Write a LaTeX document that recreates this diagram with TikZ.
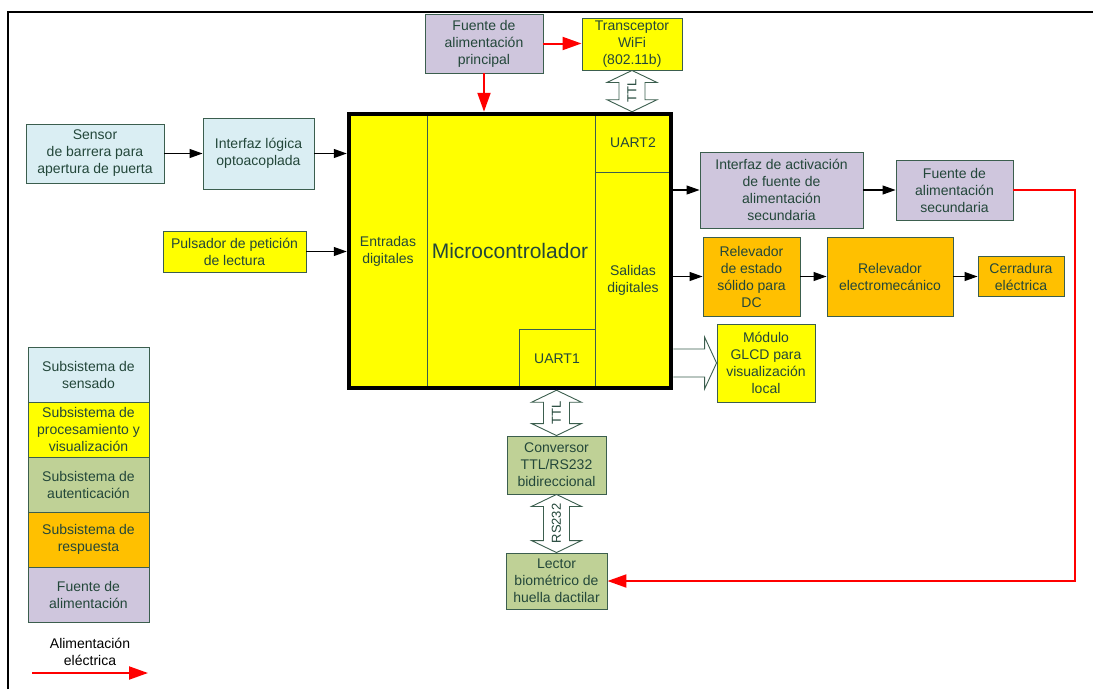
\documentclass[tikz,border=0pt]{standalone}
\usepackage{fontspec}
\setmainfont{Liberation Sans}
\usetikzlibrary{arrows.meta,calc}
\definecolor{txtc}{HTML}{23473A}
\definecolor{bordc}{HTML}{3B5E4E}
\definecolor{cblue}{HTML}{DAEEF3}
\definecolor{cyel}{HTML}{FFFF00}
\definecolor{cgreen}{HTML}{BFD196}
\definecolor{corange}{HTML}{FFC000}
\definecolor{clav}{HTML}{CFC6DD}
\newcommand{\myVArrow}[3]{% top anchor, bottom anchor, label
  \filldraw[bigarr] let \p1=(#1), \p2=(#2) in
    (\x1,\y1) -- ({\x1+25pt},{\y1-12pt}) -- ({\x1+13pt},{\y1-12pt})
    -- ({\x1+13pt},{\y2+12pt}) -- ({\x1+25pt},{\y2+12pt}) -- (\x1,\y2)
    -- ({\x1-25pt},{\y2+12pt}) -- ({\x1-13pt},{\y2+12pt})
    -- ({\x1-13pt},{\y1-12pt}) -- ({\x1-25pt},{\y1-12pt}) -- cycle
    node[lbl,rotate=90] at (\x1,{0.5*\y1+0.5*\y2}) {#3};}
\begin{document}
\begin{tikzpicture}[x=1pt,y=-1pt,
  box/.style={draw=bordc,line width=0.9pt,text=txtc,align=center,inner sep=0pt,font=\fontsize{14}{17}\selectfont},
  blkarr/.style={draw=black,line width=1.1pt,-{Triangle[length=13pt,width=9pt]}},
  redarr/.style={draw=red,line width=2pt,-{Triangle[length=19pt,width=13pt]}},
  bigarr/.style={draw=bordc,fill=white,line width=0.9pt},
  lbl/.style={text=txtc,font=\fontsize{13}{15}\selectfont,inner sep=0pt}
]
\useasboundingbox (0,0) rectangle (1093,689);
\fill[white] (0,0) rectangle (1093,689);
% frame
\draw[line width=2.2pt] (8,689) -- (8,12) -- (1093,12);

% top
\node[box,fill=clav,minimum width=118pt,minimum height=59pt] (fprin) at (484,43.5) {Fuente de\\alimentación\\principal};
\node[box,fill=cyel,minimum width=100pt,minimum height=52pt] (wifi) at (632,44) {Transceptor\\WiFi\\(802.11b)};

% microcontroller
\node[fill=cyel,minimum width=322pt,minimum height=274pt,inner sep=0pt,outer sep=2.25pt,text=txtc,font=\fontsize{21}{25}\selectfont] (micro) at (510,251) {Microcontrolador};
\node[box,minimum width=78pt,minimum height=274pt] (entradas) at (388,251) {Entradas\\digitales};
\node[box,minimum width=76pt,minimum height=58pt] (uart2) at (633,143) {UART2};
\node[box,minimum width=76pt,minimum height=216pt] (salidas) at (633,280) {Salidas\\digitales};
\node[box,minimum width=76pt,minimum height=59pt] (uart1) at (557,358.5) {UART1};
\node[draw=black,line width=4.5pt,minimum width=322pt,minimum height=274pt,inner sep=0pt] (microframe) at (micro.center) {};

% left side
\node[box,fill=cblue,minimum width=138pt,minimum height=59pt] (sensor) at (95,153.5) {Sensor\\de barrera para\\apertura de puerta};
\node[box,fill=cblue,minimum width=111pt,minimum height=71pt] (intlog) at (258.5,153.5) {Interfaz lógica\\optoacoplada};
\node[box,fill=cyel,minimum width=143pt,minimum height=41pt] (puls) at (234.5,251.5) {Pulsador de petición\\de lectura};

% right side
\node[box,fill=clav,minimum width=163pt,minimum height=76pt] (intact) at (781.5,190) {Interfaz de activación\\de fuente de\\alimentación\\secundaria};
\node[box,fill=clav,minimum width=117pt,minimum height=60pt] (fsec) at (954.5,190) {Fuente de\\alimentación\\secundaria};
\node[box,fill=corange,minimum width=97pt,minimum height=79pt] (relss) at (751.5,276.5) {Relevador\\de estado\\sólido para\\DC};
\node[box,fill=corange,minimum width=126pt,minimum height=79pt] (relem) at (890,276.5) {Relevador\\electromecánico};
\node[box,fill=corange,minimum width=86pt,minimum height=40pt] (cerr) at (1021,276.5) {Cerradura\\eléctrica};
\node[box,fill=cyel,minimum width=98pt,minimum height=78pt] (glcd) at (766,363) {Módulo\\GLCD para\\visualización\\local};

% bottom
\node[box,fill=cgreen,minimum width=99pt,minimum height=58pt] (conv) at (556.5,465) {Conversor\\TTL/RS232\\bidireccional};
\node[box,fill=cgreen,minimum width=101pt,minimum height=56pt] (lector) at (556.5,581) {Lector\\biométrico de\\huella dactilar};

% legend
\node[box,fill=cblue,minimum width=121pt,minimum height=55pt] (lg1) at (88.5,374.5) {Subsistema de\\sensado};
\node[box,fill=cyel,minimum width=121pt,minimum height=55pt] (lg2) at (88.5,429.5) {Subsistema de\\procesamiento y\\visualización};
\node[box,fill=cgreen,minimum width=121pt,minimum height=55pt] (lg3) at (88.5,484.5) {Subsistema de\\autenticación};
\node[box,fill=corange,minimum width=121pt,minimum height=55pt] (lg4) at (88.5,539.5) {Subsistema de\\respuesta};
\node[box,fill=clav,minimum width=121pt,minimum height=55pt] (lg5) at (88.5,594.5) {Fuente de\\alimentación};
\node[align=center,inner sep=0pt,font=\fontsize{14}{17}\selectfont] (legtxt) at (90,652) {Alimentación\\eléctrica};
\coordinate (la) at (32,673);
\coordinate (lb) at (148,673);
\draw[redarr] (la) -- (lb);

% black arrows
\draw[blkarr] (sensor.east) -- (intlog.west |- sensor.east);
\draw[blkarr] (intlog.east) -- (micro.west |- intlog.east);
\draw[blkarr] (puls.east) -- (micro.west |- puls.east);
\draw[blkarr] (micro.east |- intact.west) -- (intact.west);
\draw[blkarr] (intact.east) -- (fsec.west);
\draw[blkarr] (micro.east |- relss.west) -- (relss.west);
\draw[blkarr] (relss.east) -- (relem.west);
\draw[blkarr] (relem.east) -- (cerr.west);

% red arrows
\draw[redarr] (fprin.east) -- (wifi.west |- fprin.east);
\draw[redarr] (fprin.south) -- (fprin.south |- micro.north);
\draw[redarr] (fsec.east) -- ++(62,0) |- (lector.east);

% block arrows
\myVArrow{wifi.south}{wifi.south |- micro.north}{TTL}
\myVArrow{conv.north |- micro.south}{conv.north}{TTL}
\myVArrow{conv.south}{lector.north}{RS232}
\filldraw[bigarr] let \p1=(micro.east |- glcd.west), \p2=(glcd.west) in
  (\x1,{\y1+14pt}) -- ({\x2-12pt},{\y1+14pt}) -- ({\x2-12pt},{\y1+26pt})
  -- (\x2,\y1) -- ({\x2-12pt},{\y1-26pt}) -- ({\x2-12pt},{\y1-14pt}) -- (\x1,{\y1-14pt});
\end{tikzpicture}
\end{document}
